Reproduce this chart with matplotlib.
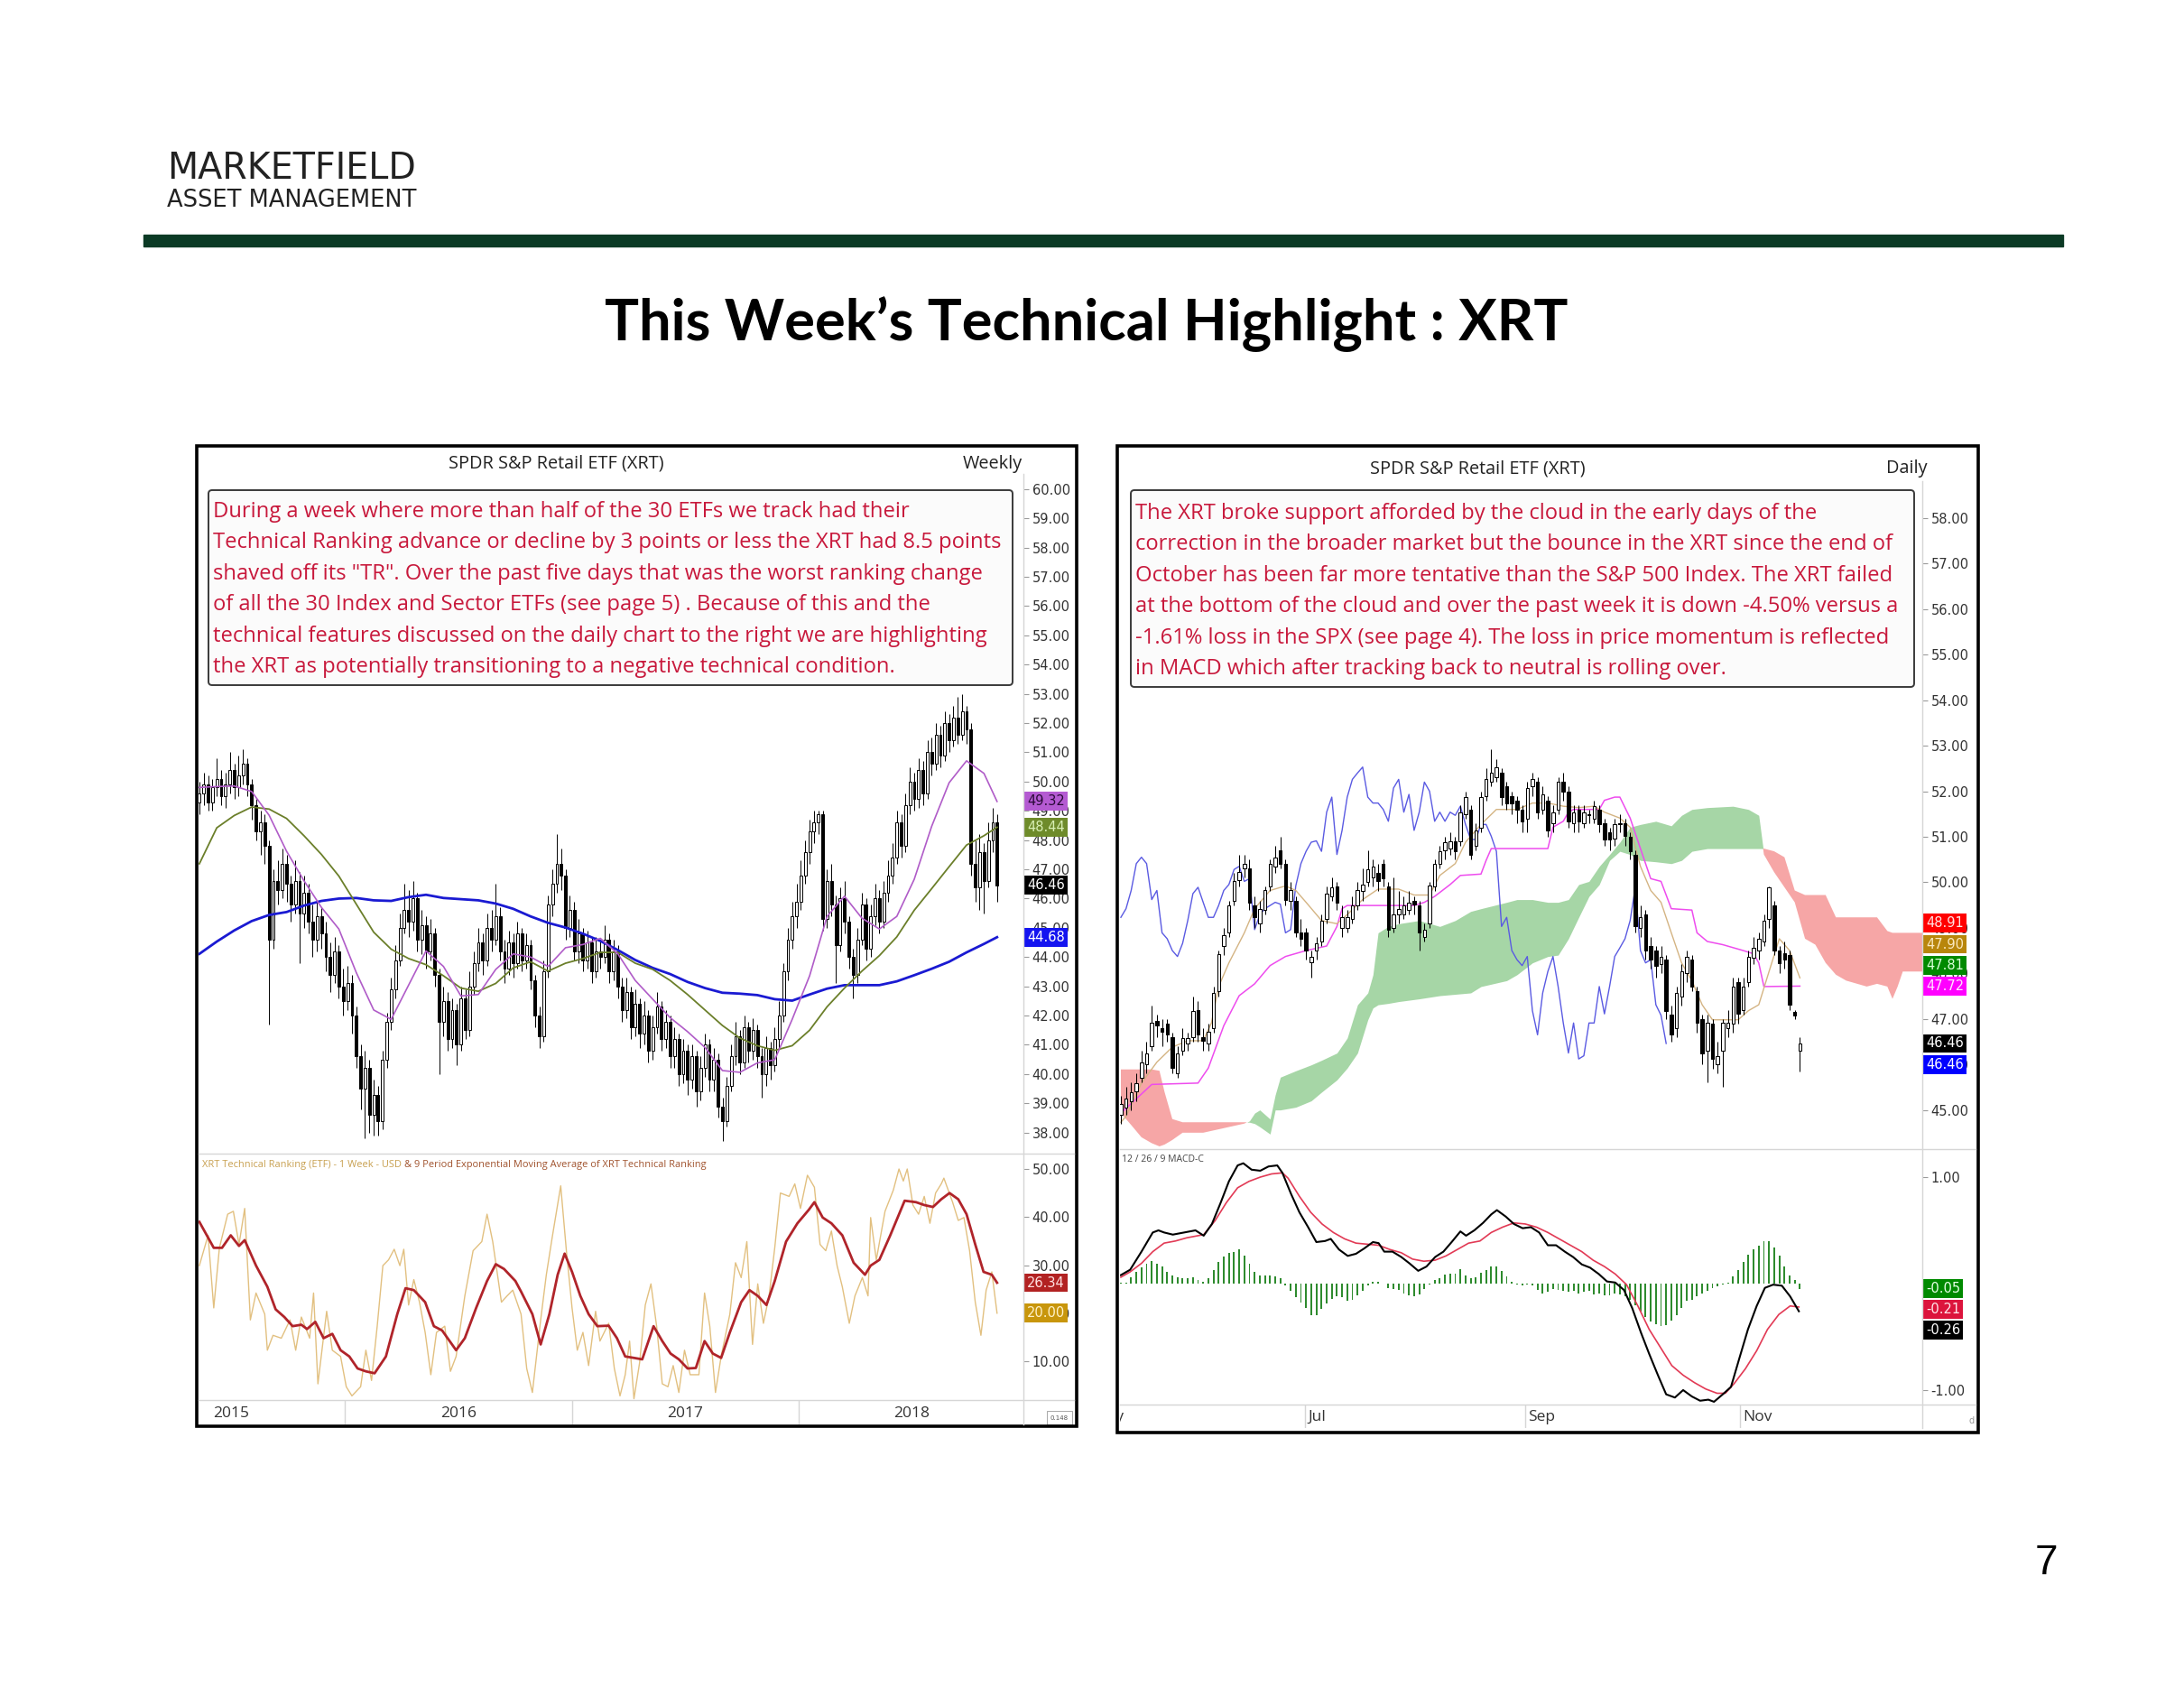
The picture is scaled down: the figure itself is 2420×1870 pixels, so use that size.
import matplotlib.pyplot as plt
import numpy as np
from matplotlib.patches import Rectangle, FancyBboxPatch

# ---------------- weekly XRT (left chart), one candle per week ----------------
wk_open = [49.3, 49.6, 49.9, 49.3, 49.8, 50.1, 49.5, 49.9, 50.4, 49.8, 50.2, 50.6,
           49.9, 49.2, 48.3, 48.6, 47.8,
           44.6, 46.6, 46.3, 47.2, 46.5, 45.8, 46.6, 45.5, 46.2, 45.2, 44.6,
           45.4, 44.8, 44.0, 43.4, 44.2, 43.0, 42.5, 43.1,
           42.0, 40.6, 39.5, 40.2, 38.6, 39.3,
           38.4, 40.5, 41.8, 42.9, 43.9, 45.0,
           45.6, 45.2, 46.0, 44.6, 45.1, 44.2,
           44.8, 43.4, 41.8, 42.5, 41.2, 42.2, 41.0, 42.6, 41.5,
           43.0, 43.8, 44.5, 43.9, 45.0, 44.6,
           45.4, 44.2, 43.6, 44.5, 43.8, 44.8, 43.9, 44.4, 43.2, 42.0,
           41.3, 43.5, 45.8, 46.5, 47.2,
           46.8, 45.0, 45.6, 44.2, 44.8, 43.9, 44.5, 43.5,
           44.2, 44.0, 44.6, 43.5, 44.2, 43.0, 42.2, 42.8,
           41.6, 42.4, 41.4, 42.0, 40.8, 41.6, 42.3, 41.2,
           41.8, 40.6, 41.2, 40.0, 40.8, 39.8, 40.6, 39.4, 40.2, 41.0, 39.8, 40.5,
           38.9, 38.4, 39.6, 40.6, 41.3, 40.4, 41.6,
           40.8, 41.5, 40.6, 40.0, 40.9, 40.3, 41.2,
           42.0, 43.5, 44.6, 45.4, 45.9, 46.8, 47.6, 48.3,
           48.6, 48.9, 45.3, 46.6, 45.8, 44.4, 46.0, 45.2,
           44.0, 43.4, 44.6, 45.8, 44.3, 45.4, 46.0, 45.2,
           46.2, 46.8, 47.4, 48.6, 47.8, 49.2, 50.0,
           49.4, 50.4, 49.6, 51.0, 50.6, 51.6, 50.9, 52.0,
           51.4, 52.2, 51.6, 52.4, 51.8,
           47.2, 46.4, 47.6, 46.6, 48.0, 48.6]
wk_high = [50.0, 50.3, 50.2, 50.1, 50.8, 50.4, 50.3, 51.0, 50.6, 50.9, 51.1, 50.8,
           50.1, 49.4, 49.0, 48.9, 48.0,
           47.0, 47.3, 47.7, 47.5, 46.8, 47.3, 46.9, 46.8, 46.5, 45.8, 45.9,
           45.7, 45.2, 44.5, 44.7, 44.4, 43.6, 43.7, 43.4,
           42.3, 41.0, 40.8, 40.5, 39.8, 39.6,
           40.8, 42.1, 43.3, 44.4, 45.5, 46.5,
           46.3, 46.6, 46.2, 45.6, 45.4, 45.3,
           45.0, 43.6, 43.0, 42.8, 42.6, 42.4, 43.0, 42.9, 43.5,
           44.2, 45.0, 44.8, 45.5, 45.6, 46.5,
           45.7, 44.6, 44.9, 44.8, 45.2, 45.0, 44.8, 44.6, 43.4, 42.3,
           43.9, 46.1, 47.0, 48.2, 47.7,
           47.0, 46.1, 45.9, 45.3, 45.0, 44.9, 44.7, 44.7,
           44.6, 45.1, 44.8, 44.6, 44.4, 43.3, 43.3, 43.0,
           42.9, 42.6, 42.5, 42.2, 42.0, 42.8, 42.5, 42.2,
           42.0, 41.6, 41.4, 41.2, 41.0, 41.0, 40.8, 40.6, 41.4, 41.2, 40.9, 40.7,
           39.2, 39.9, 41.0, 41.8, 41.5, 42.0, 41.8,
           41.9, 41.7, 40.9, 41.3, 41.1, 41.6, 42.5,
           43.8, 45.0, 45.9, 46.5, 47.3, 48.0, 48.7, 49.0,
           49.0, 49.0, 47.0, 47.2, 46.1, 46.4, 46.6, 45.4,
           44.3, 45.0, 46.2, 46.0, 45.8, 46.5, 46.3, 46.6,
           47.3, 47.9, 49.0, 48.9, 49.6, 50.5, 50.3,
           50.8, 50.7, 51.4, 51.5, 52.0, 51.9, 52.4, 52.3,
           52.6, 52.9, 53.0, 52.6, 52.0,
           48.0, 48.2, 47.9, 48.6, 49.1, 48.9]
wk_low = [48.9, 49.2, 49.0, 49.0, 49.5, 49.2, 49.1, 49.6, 49.4, 49.5, 49.9, 49.5,
          48.7, 48.0, 47.5, 47.2, 41.7,
          44.3, 45.8, 46.0, 45.9, 45.2, 45.5, 43.8, 45.0, 44.8, 44.0, 44.2,
          44.3, 43.5, 42.8, 43.1, 42.6, 42.0, 42.2, 41.4,
          40.2, 38.8, 37.8, 38.0, 37.9, 37.9,
          38.1, 40.2, 41.5, 42.6, 43.7, 44.8,
          44.7, 44.9, 44.2, 44.1, 43.6, 43.9,
          43.0, 40.0, 41.3, 40.8, 40.9, 40.3, 40.8, 41.2, 41.3,
          42.7, 43.5, 43.4, 43.7, 44.2, 44.4,
          43.9, 43.1, 43.4, 43.3, 43.6, 43.5, 43.6, 42.9, 41.6, 40.9,
          41.1, 43.3, 45.4, 46.2, 46.3,
          44.6, 44.7, 43.9, 43.8, 43.5, 43.6, 43.1, 43.3,
          43.6, 43.8, 43.1, 43.2, 42.6, 41.8, 41.9, 41.2,
          41.3, 40.9, 41.0, 40.4, 40.5, 41.4, 40.8, 40.9,
          40.2, 40.2, 39.6, 39.7, 39.3, 39.5, 38.9, 39.1, 39.9, 39.4, 39.4, 38.5,
          37.7, 38.2, 39.4, 40.3, 40.0, 40.2, 40.4,
          40.5, 40.2, 39.2, 39.6, 39.8, 40.1, 40.9,
          41.8, 43.2, 44.3, 45.0, 45.6, 46.5, 47.2, 47.9,
          48.2, 44.9, 45.0, 45.4, 43.1, 44.2, 44.8, 43.6,
          42.6, 43.1, 44.4, 43.9, 44.0, 45.1, 44.8, 45.0,
          45.9, 46.5, 47.2, 47.4, 47.6, 48.9, 49.0,
          49.1, 49.2, 49.4, 50.2, 50.4, 50.5, 50.7, 51.0,
          51.2, 51.3, 51.4, 51.3, 46.8,
          45.9, 45.6, 45.5, 46.4, 47.6, 45.9]
wk_close = [49.6, 49.9, 49.3, 49.8, 50.1, 49.5, 49.9, 50.4, 49.8, 50.2, 50.6, 49.9,
            49.2, 48.3, 48.6, 47.8, 44.6,
            46.6, 46.3, 47.2, 46.5, 45.8, 46.6, 45.5, 46.2, 45.2, 44.6, 45.4,
            44.8, 44.0, 43.4, 44.2, 43.0, 42.5, 43.1, 42.0,
            40.6, 39.5, 40.2, 38.6, 39.3, 38.4,
            40.5, 41.8, 42.9, 43.9, 45.0, 45.6,
            45.2, 46.0, 44.6, 45.1, 44.2, 44.8,
            43.4, 41.8, 42.5, 41.2, 42.2, 41.0, 42.6, 41.5, 43.0,
            43.8, 44.5, 43.9, 45.0, 44.6, 45.4,
            44.2, 43.6, 44.5, 43.8, 44.8, 43.9, 44.4, 43.2, 42.0, 41.3,
            43.5, 45.8, 46.5, 47.2, 46.8,
            45.0, 45.6, 44.2, 44.8, 43.9, 44.5, 43.5, 44.2,
            44.0, 44.6, 43.5, 44.2, 43.0, 42.2, 42.8, 41.6,
            42.4, 41.4, 42.0, 40.8, 41.6, 42.3, 41.2, 41.8,
            40.6, 41.2, 40.0, 40.8, 39.8, 40.6, 39.4, 40.2, 41.0, 39.8, 40.5, 38.9,
            38.4, 39.6, 40.6, 41.3, 40.4, 41.6, 40.8,
            41.5, 40.6, 40.0, 40.9, 40.3, 41.2, 42.0,
            43.5, 44.6, 45.4, 45.9, 46.8, 47.6, 48.3, 48.6,
            48.9, 45.3, 46.6, 45.8, 44.4, 46.0, 45.2, 44.0,
            43.4, 44.6, 45.8, 44.3, 45.4, 46.0, 45.2, 46.2,
            46.8, 47.4, 48.6, 47.8, 49.2, 50.0, 49.4,
            50.4, 49.6, 51.0, 50.6, 51.6, 50.9, 52.0, 51.4,
            52.2, 51.6, 52.4, 51.8, 47.2,
            46.4, 47.6, 46.6, 48.0, 48.6, 46.46]

# moving averages, read every 4th week (last point = last week)
ma_fast = [49.80, 49.83, 49.85, 49.66, 48.85, 47.62, 46.61, 45.70, 44.96, 43.47,
           42.19, 41.87, 43.04, 44.21, 43.68, 42.67, 42.72, 43.58, 44.11, 44.0,
           43.68, 44.32, 44.43, 44.64, 44.11, 43.2, 42.56, 41.93, 41.45, 40.91,
           40.12, 40.06, 40.38, 40.49, 41.87, 43.36, 45.39, 46.08, 45.33, 44.96,
           45.39, 46.66, 48.47, 49.96, 50.71, 50.28, 49.32]
ma_mid = [47.19, 48.42, 48.84, 49.13, 49.06, 48.74, 48.15, 47.51, 46.77, 45.81,
          44.85, 44.27, 43.95, 43.74, 43.36, 42.94, 42.83, 43.10, 43.63, 43.84,
          43.52, 43.79, 43.95, 44.16, 44.16, 43.79, 43.58, 43.20, 42.72, 42.19,
          41.66, 41.23, 40.97, 40.81, 40.97, 41.50, 42.30, 42.94, 43.52, 44.05,
          44.69, 45.60, 46.34, 47.09, 47.83, 48.15, 48.44]
ma_slow = [44.11, 44.53, 44.91, 45.23, 45.44, 45.54, 45.76, 45.92, 46.0, 46.02,
           45.94, 45.92, 46.05, 46.13, 46.02, 45.98, 45.94, 45.83, 45.65, 45.39,
           45.17, 45.01, 44.80, 44.55, 44.24, 43.90, 43.63, 43.42, 43.15, 42.94,
           42.78, 42.75, 42.70, 42.56, 42.51, 42.72, 42.92, 43.04, 43.04, 43.04,
           43.17, 43.38, 43.60, 43.84, 44.16, 44.45, 44.68]
ma_weeks = list(range(0, 184, 4)) + [183]

# technical ranking (raw, tan) and its 9-period EMA (dark red)
rank_wk = [0, 2.0, 3.3, 4.6, 6.5, 7.8, 9.1, 10.4, 11.7, 13.0,
           15.0, 15.6, 16.9, 18.8, 20.8, 22.1, 23.4, 25.3, 26.2, 27.2,
           29.2, 30.5, 32.4, 33.7, 35.0, 37.0, 38.2, 39.5, 40.8, 42.1,
           43.4, 44.7, 46.0, 46.9, 48.0, 49.2, 50.5, 51.8, 53.1, 54.4,
           56.3, 57.6, 58.9, 60.9, 62.8, 64.8, 66.0, 67.3, 69.3, 70.6,
           71.9, 73.8, 75.1, 76.4, 78.3, 79.6, 80.9, 82.9, 84.2, 85.5,
           86.7, 88.0, 89.3, 90.9, 91.9, 93.9, 95.2, 96.5, 97.7, 98.7,
           99.7, 101.0, 102.3, 103.6, 104.9, 106.2, 107.5, 108.7, 110.0, 111.3,
           112.6, 114.6, 115.9, 117.1, 118.4, 119.7, 121.7, 123.0, 124.3, 125.6,
           126.9, 128.1, 129.4, 130.7, 132.0, 133.3, 135.3, 136.6, 137.9, 139.5,
           141.1, 142.4, 143.7, 145.0, 146.3, 147.5, 149.1, 150.4, 152.1, 153.4,
           154.0, 155.3, 157.3, 159.2, 160.5, 161.5, 162.4, 163.7, 165.0, 166.3,
           167.6, 168.9, 170.2, 170.8, 172.8, 174.1, 175.4, 176.7, 178.0, 179.3,
           180.5, 181.8, 183.0]
rank_raw = [29.9, 36.2, 21.1, 33.6, 40.6, 41.2, 34.3, 41.8, 18.6, 24.2,
            19.8, 12.3, 15.4, 14.8, 18.6, 12.3, 19.2, 14.8, 24.2, 5.3,
            20.4, 12.3, 11.0, 4.7, 2.8, 4.7, 12.3, 6.0, 17.3, 29.9,
            31.1, 33.3, 29.9, 33.3, 21.7, 27.0, 22.3, 16.0, 7.2, 16.0,
            17.3, 7.9, 11.0, 23.6, 33.0, 34.9, 40.6, 34.9, 22.3, 23.6,
            24.8, 19.8, 8.5, 3.5, 18.6, 28.0, 35.5, 46.5, 33.0, 21.1,
            12.3, 16.0, 9.1, 20.4, 14.2, 17.9, 8.5, 2.8, 7.2, 14.2,
            2.2, 9.7, 21.7, 26.1, 17.3, 5.3, 4.7, 9.1, 3.5, 12.3,
            7.2, 7.2, 24.2, 17.3, 3.5, 11.0, 19.8, 30.5, 27.4, 34.9,
            13.5, 26.1, 17.9, 23.6, 33.6, 45.0, 44.3, 46.9, 41.8, 48.7,
            46.2, 34.3, 33.0, 37.1, 29.9, 25.5, 17.9, 23.6, 27.4, 23.6,
            39.9, 31.1, 41.2, 45.6, 50.0, 47.5, 50.0, 42.5, 40.6, 44.3,
            38.7, 45.0, 46.9, 48.1, 43.1, 39.3, 39.9, 33.0, 22.3, 15.4,
            24.8, 28.6, 20.0]
ema_wk = [0, 3.3, 5.2, 7.2, 9.1, 10.4, 13.0, 15.6, 17.5, 19.5,
          21.4, 23.4, 24.7, 26.6, 28.5, 30.5, 32.4, 34.4, 36.3, 38.2,
          40.2, 42.8, 45.4, 47.3, 49.2, 51.8, 53.8, 55.7, 58.9, 60.9,
          63.5, 66.0, 68.0, 69.9, 72.5, 73.8, 76.4, 78.3, 80.3, 82.2,
          83.8, 85.5, 87.4, 89.3, 91.3, 93.9, 95.8, 97.7, 99.7, 101.6,
          104.2, 106.2, 108.1, 110.0, 112.0, 113.9, 115.9, 117.8, 119.7, 121.7,
          124.3, 126.2, 128.1, 130.1, 132.0, 134.6, 137.2, 139.8, 141.1, 143.0,
          145.0, 147.5, 150.1, 152.7, 154.0, 156.0, 158.5, 161.8, 164.4, 166.3,
          168.3, 170.2, 172.1, 174.1, 176.0, 178.0, 179.9, 181.8, 183.0]
rank_ema = [39.0, 33.6, 33.6, 36.2, 34.0, 35.2, 29.9, 25.5, 20.8, 19.2,
            17.3, 17.6, 16.7, 18.2, 14.8, 15.7, 12.3, 11.0, 8.5, 7.9,
            7.5, 11.0, 19.8, 25.2, 24.8, 22.3, 17.3, 16.4, 12.3, 14.8,
            21.1, 26.7, 30.2, 29.2, 26.7, 24.5, 19.8, 13.5, 19.8, 28.0,
            32.4, 28.6, 23.6, 19.8, 17.3, 17.4, 14.8, 11.0, 10.7, 10.4,
            17.3, 14.2, 11.6, 10.4, 8.5, 8.6, 14.2, 11.6, 10.7, 16.0,
            22.3, 24.8, 23.6, 21.7, 26.7, 34.9, 38.7, 41.5, 43.1, 39.9,
            38.7, 36.2, 30.5, 28.0, 29.9, 31.1, 36.2, 43.4, 43.1, 42.5,
            42.1, 43.7, 45.0, 43.7, 40.6, 34.3, 28.6, 28.0, 26.34]

year_labels = ['2015', '2016', '2017', '2018']
year_starts = [-18.8, 33.4, 85.5, 137.4, 189.5]   # week index of 1 Jan

# ---------------- daily XRT (right chart), May-Nov 2018 ----------------
d_open = [44.9, 45.05, 45.2, 45.4, 45.7, 46.0, 46.4, 46.95, 46.8, 46.9,
          46.6, 45.8, 46.3, 46.45, 46.6, 47.2, 46.6, 46.45, 46.8, 47.6,
          48.6, 48.9, 49.6, 50.05, 50.3, 50.3, 49.5, 49.1, 49.4, 49.9,
          50.35, 50.7, 50.4, 49.6, 49.6, 48.9, 48.9, 48.25, 48.5, 48.7,
          49.2, 49.7, 49.9, 49.0, 49.0, 49.2, 49.5, 49.8, 50.0, 50.1,
          50.2, 50.4, 49.9, 49.0, 49.3, 49.3, 49.4, 49.6, 49.5, 48.8,
          49.1, 49.9, 50.4, 50.7, 50.75, 50.9, 50.9, 51.5, 51.6, 50.8,
          51.2, 51.9, 52.2, 52.3, 52.4, 52.1, 51.9, 51.8, 51.6, 51.4,
          52.1, 52.2, 51.6, 51.8, 51.3, 51.6, 52.2, 52.0, 51.3, 51.6,
          51.3, 51.5, 51.4, 51.6, 51.3, 51.1, 50.95, 51.3, 51.3, 51.0,
          50.6, 49.0, 49.3, 48.6, 48.5, 48.2, 48.3, 47.1, 46.8, 47.5,
          48.0, 48.3, 47.6, 47.0, 46.3, 46.9, 46.0, 46.3, 46.8, 46.9,
          47.8, 47.2, 47.8, 48.35, 48.5, 48.7, 49.2, 49.5, 48.5, 48.45,
          48.4, 47.15, 46.3]
d_high = [45.3, 45.5, 45.6, 45.8, 46.3, 46.5, 47.3, 47.1, 47.0, 47.0,
          46.7, 46.4, 46.8, 46.7, 47.5, 47.4, 46.8, 46.9, 47.7, 48.5,
          49.0, 49.6, 50.2, 50.6, 50.6, 50.5, 49.7, 49.6, 49.9, 50.5,
          50.8, 51.0, 50.5, 50.0, 49.7, 49.2, 49.0, 48.5, 48.8, 49.3,
          49.9, 50.1, 50.0, 49.5, 49.4, 49.7, 50.0, 50.3, 50.7, 50.5,
          50.4, 50.5, 50.0, 50.1, 49.8, 49.7, 49.8, 49.7, 49.6, 49.1,
          50.0, 50.5, 50.8, 51.0, 51.1, 51.0, 51.7, 52.0, 51.7, 51.3,
          52.0, 52.5, 52.93, 52.7, 52.5, 52.2, 52.0, 51.9, 51.7, 52.2,
          52.4, 52.3, 52.1, 51.9, 51.7, 52.3, 52.4, 52.1, 51.7, 51.7,
          51.7, 51.6, 51.8, 51.7, 51.4, 51.2, 51.4, 51.5, 51.4, 51.1,
          50.7, 49.5, 49.4, 48.8, 48.6, 48.6, 48.4, 47.3, 47.7, 48.2,
          48.5, 48.4, 47.7, 47.1, 47.1, 47.0, 46.5, 47.0, 47.2, 47.9,
          47.9, 47.9, 48.5, 48.8, 48.9, 49.3, 49.9, 49.6, 48.6, 48.7,
          48.5, 47.2, 46.6]
d_low = [44.7, 44.9, 45.0, 45.2, 45.6, 45.8, 46.3, 46.6, 46.4, 46.5,
         45.8, 45.7, 46.2, 46.3, 46.5, 46.5, 46.3, 46.3, 46.7, 47.5,
         48.4, 48.8, 49.5, 49.9, 50.1, 49.4, 49.0, 48.9, 49.3, 49.8,
         50.2, 50.3, 49.5, 49.4, 48.8, 48.6, 48.3, 47.9, 48.3, 48.6,
         49.1, 49.6, 49.4, 48.8, 48.9, 49.1, 49.4, 49.6, 49.9, 49.9,
         49.8, 49.9, 48.8, 48.9, 49.1, 49.2, 49.3, 49.3, 48.5, 48.7,
         49.0, 49.8, 50.3, 50.5, 50.6, 50.5, 50.8, 51.4, 50.5, 50.7,
         51.1, 51.8, 52.1, 52.2, 51.7, 51.6, 51.5, 51.3, 51.1, 51.1,
         51.9, 51.4, 51.5, 51.0, 51.1, 51.5, 51.8, 51.2, 51.1, 51.1,
         51.2, 51.3, 51.3, 51.1, 50.8, 50.7, 50.8, 51.1, 50.8, 50.5,
         48.9, 48.8, 48.3, 48.1, 47.9, 48.0, 47.0, 46.5, 46.6, 47.3,
         47.8, 47.6, 46.7, 46.0, 45.6, 45.9, 45.8, 45.5, 46.6, 46.7,
         46.9, 47.1, 47.7, 48.2, 48.3, 48.6, 49.0, 48.4, 48.0, 48.1,
         47.2, 47.0, 45.85]
d_close = [45.13, 45.26, 45.39, 45.59, 46.05, 46.25, 46.91, 46.85, 46.71, 46.65,
           45.92, 46.25, 46.58, 46.58, 47.18, 46.65, 46.52, 46.71, 47.57, 48.43,
           48.83, 49.49, 50.02, 50.22, 50.41, 49.56, 49.23, 49.42, 49.82, 50.41,
           50.55, 50.41, 49.62, 49.82, 48.89, 48.76, 48.50, 48.37, 48.66, 49.16,
           49.75, 49.89, 49.56, 49.23, 49.23, 49.49, 49.82, 49.95, 50.28, 50.35,
           50.02, 50.08, 48.96, 49.29, 49.42, 49.49, 49.56, 49.52, 48.89, 48.96,
           49.92, 50.41, 50.68, 50.88, 50.91, 50.68, 51.54, 51.87, 50.61, 51.14,
           51.87, 52.26, 52.40, 52.53, 51.87, 51.74, 51.74, 51.60, 51.34, 52.07,
           52.26, 51.54, 51.93, 51.14, 51.54, 52.20, 52.00, 51.34, 51.54, 51.34,
           51.54, 51.47, 51.67, 51.27, 50.94, 50.94, 51.27, 51.27, 51.01, 50.68,
           49.03, 49.23, 48.50, 48.30, 48.17, 48.37, 47.18, 46.65, 47.57, 48.04,
           48.37, 47.71, 46.91, 46.25, 46.91, 46.12, 46.19, 46.91, 46.91, 47.71,
           47.11, 47.71, 48.37, 48.56, 48.76, 49.16, 49.89, 48.50, 48.23, 48.30,
           47.31, 47.08, 46.46]
chikou_lag = 26

# Ichimoku lines (day index, price)
tenkan_day = [0, 1, 4, 7, 10, 13, 16, 17.6, 19, 21, 24, 26, 29, 32, 34, 36, 39, 42, 44, 47,
              50, 54, 57, 60, 62, 65, 67, 70, 73, 77, 80, 83, 86, 89, 92, 94, 97, 99, 101, 103,
              105, 107, 109, 111, 113, 115, 118, 120, 122, 124, 126, 128, 130, 132]
tenkan = [44.73, 44.86, 45.59, 46.05, 46.38, 46.52, 46.52, 46.91, 47.71, 48.23,
          48.89, 49.42, 49.82, 49.92, 49.82, 49.56, 49.16, 49.09, 49.29, 49.62,
          49.85, 49.85, 49.72, 49.72, 50.15, 50.41, 50.88, 51.27, 51.60, 51.60,
          51.74, 51.74, 51.67, 51.64, 51.67, 51.54, 51.41, 51.21, 50.35, 49.82,
          49.56, 48.89, 48.23, 47.84, 47.31, 46.98, 46.98, 46.98, 47.18, 47.31,
          48.04, 48.76, 48.50, 47.90]
kijun_day = [0, 6, 15, 17, 20, 23, 26, 29, 32, 36, 40, 42, 43, 44, 57, 59, 61, 64, 66, 70,
             71, 72, 83, 84, 86, 87, 88, 93, 94, 96, 97, 99, 101, 103, 105, 107, 111, 112, 114, 117,
             121, 123, 124, 125, 132]
kijun = [44.93, 45.56, 45.59, 45.92, 46.85, 47.51, 47.77, 48.17, 48.37, 48.50,
         48.60, 49.03, 49.42, 49.49, 49.49, 49.56, 49.69, 49.95, 50.15, 50.18,
         50.48, 50.74, 50.74, 51.21, 51.34, 51.54, 51.60, 51.60, 51.80, 51.87,
         51.87, 51.41, 50.74, 50.08, 50.02, 49.42, 49.39, 48.89, 48.70, 48.63,
         48.50, 48.43, 48.23, 47.71, 47.72]
cloud_day = [0, 2, 4, 6, 7.5, 8.5, 10, 12, 16, 20, 24, 25, 26, 27, 29, 30, 31, 34, 37, 39,
             42, 44, 46, 48, 49, 50, 52, 54, 58, 62, 65, 68, 70, 75, 77, 80, 83, 85, 87, 89,
             91, 93, 95, 97, 99, 101, 104, 107, 109, 111, 114, 119, 122, 124, 125, 127, 129, 131, 133, 135,
             137, 139, 141, 145, 147, 149, 150, 151, 152, 156]
span_a = [44.93, 44.67, 44.40, 44.27, 44.20, 44.24, 44.34, 44.50, 44.50, 44.60,
          44.70, 44.76, 44.93, 45.00, 44.80, 45.33, 45.72, 45.86, 45.99, 46.09,
          46.25, 46.58, 47.31, 47.57, 47.97, 48.89, 49.03, 49.09, 49.16, 49.03,
          49.16, 49.36, 49.42, 49.56, 49.62, 49.62, 49.56, 49.56, 49.62, 49.95,
          50.02, 50.35, 50.61, 50.88, 51.21, 51.27, 51.34, 51.24, 51.47, 51.60,
          51.64, 51.67, 51.60, 51.47, 50.61, 50.22, 49.89, 49.56, 48.76, 48.63,
          48.23, 47.97, 47.84, 47.71, 47.77, 47.71, 47.44, 47.71, 48.04, 48.04]
span_b = [45.89, 45.89, 45.89, 45.89, 45.86, 45.39, 44.80, 44.73, 44.73, 44.73,
          44.73, 44.73, 44.70, 44.63, 44.47, 45.00, 45.00, 45.06, 45.20, 45.39,
          45.66, 45.92, 46.25, 46.98, 47.24, 47.31, 47.34, 47.38, 47.44, 47.51,
          47.54, 47.57, 47.71, 47.84, 47.97, 48.23, 48.37, 48.40, 48.76, 49.23,
          49.69, 49.95, 50.48, 50.68, 50.61, 50.48, 50.45, 50.41, 50.48, 50.68,
          50.74, 50.74, 50.74, 50.74, 50.74, 50.68, 50.55, 49.82, 49.72, 49.72,
          49.72, 49.23, 49.23, 49.23, 49.23, 48.93, 48.89, 48.89, 48.89, 48.89]

# MACD 12/26/9
macd_day = [0, 1.8, 4.0, 6.2, 7.3, 8.4, 10.1, 12.3, 14.5, 16.1,
            17.7, 19.4, 21.0, 22.7, 23.8, 25.4, 27.1, 28.7, 30.4, 31.4,
            33.1, 34.7, 36.4, 38.0, 39.7, 40.8, 42.4, 44.1, 45.7, 47.3,
            49.0, 50.1, 51.2, 52.8, 54.5, 56.1, 57.8, 59.4, 61.1, 62.7,
            64.3, 66.0, 67.1, 68.7, 70.4, 72.0, 73.1, 74.8, 76.4, 78.1,
            79.7, 81.3, 83.0, 84.6, 86.3, 87.9, 89.6, 91.2, 92.9, 94.5,
            96.1, 97.8, 99.4, 101.1, 102.7, 104.4, 106.0, 107.7, 109.3, 111.0,
            112.6, 114.2, 115.3, 117.0, 118.6, 120.3, 121.9, 123.6, 125.2, 126.8,
            128.5, 130.1, 131.8]
macd = [0.08, 0.13, 0.30, 0.48, 0.50, 0.48, 0.46, 0.48, 0.50, 0.45,
        0.56, 0.76, 0.96, 1.11, 1.13, 1.07, 1.06, 1.10, 1.11, 1.04,
        0.84, 0.67, 0.53, 0.39, 0.40, 0.42, 0.32, 0.26, 0.28, 0.33,
        0.39, 0.38, 0.30, 0.30, 0.25, 0.19, 0.12, 0.16, 0.25, 0.30,
        0.39, 0.49, 0.45, 0.50, 0.57, 0.65, 0.69, 0.63, 0.56, 0.52,
        0.53, 0.48, 0.36, 0.36, 0.30, 0.25, 0.18, 0.15, 0.09, 0.02,
        0.01, -0.06, -0.23, -0.46, -0.66, -0.86, -1.04, -1.07, -1.00, -1.06,
        -1.10, -1.09, -1.11, -1.04, -0.97, -0.69, -0.43, -0.21, -0.04, -0.01,
        -0.02, -0.12, -0.26]
signal_day = [0, 1.8, 4.0, 6.2, 8.4, 10.6, 12.8, 15.0, 16.1, 18.3,
              20.5, 22.7, 24.9, 27.1, 29.3, 31.4, 32.5, 34.7, 36.9, 39.1,
              41.3, 43.5, 45.7, 47.9, 50.1, 52.3, 54.5, 56.7, 58.9, 61.1,
              63.2, 65.4, 67.6, 69.8, 72.0, 74.2, 76.4, 78.6, 80.8, 83.0,
              85.2, 87.4, 89.6, 91.8, 94.0, 96.1, 98.3, 100.5, 102.7, 104.9,
              107.1, 109.3, 111.5, 113.7, 115.9, 117.5, 119.2, 121.4, 123.6, 125.7,
              127.9, 130.1, 131.8]
signal = [0.06, 0.11, 0.19, 0.30, 0.38, 0.40, 0.43, 0.45, 0.46, 0.59,
          0.76, 0.90, 0.96, 1.00, 1.03, 1.04, 0.99, 0.82, 0.67, 0.56,
          0.48, 0.42, 0.38, 0.37, 0.36, 0.32, 0.29, 0.23, 0.21, 0.22,
          0.26, 0.32, 0.38, 0.40, 0.48, 0.53, 0.57, 0.56, 0.53, 0.48,
          0.42, 0.36, 0.30, 0.22, 0.16, 0.09, -0.01, -0.21, -0.43, -0.60,
          -0.77, -0.86, -0.93, -0.99, -1.03, -1.03, -0.94, -0.80, -0.63, -0.43,
          -0.29, -0.21, -0.22]
hist = [0.01, 0.01, 0.06, 0.11, 0.15, 0.19, 0.21, 0.19, 0.16, 0.11,
        0.08, 0.06, 0.055, 0.05, 0.06, 0.03, 0.02, 0.05, 0.13, 0.20,
        0.25, 0.29, 0.30, 0.32, 0.26, 0.19, 0.11, 0.08, 0.08, 0.08,
        0.07, 0.05, -0.02, -0.07, -0.13, -0.18, -0.23, -0.30, -0.30, -0.24,
        -0.19, -0.14, -0.12, -0.13, -0.16, -0.15, -0.11, -0.07, -0.02, 0.02,
        0.02, 0.0, -0.04, -0.05, -0.06, -0.09, -0.11, -0.12, -0.10, -0.05,
        -0.01, 0.03, 0.055, 0.085, 0.09, 0.09, 0.135, 0.08, 0.05, 0.06,
        0.10, 0.13, 0.16, 0.16, 0.12, 0.07, 0.02, -0.01, -0.02, -0.01,
        -0.02, -0.06, -0.09, -0.08, -0.055, -0.06, -0.07, -0.08, -0.065, -0.09,
        -0.08, -0.065, -0.10, -0.09, -0.11, -0.11, -0.09, -0.10, -0.12, -0.155,
        -0.205, -0.26, -0.31, -0.355, -0.385, -0.40, -0.39, -0.35, -0.30, -0.225,
        -0.16, -0.15, -0.12, -0.095, -0.07, -0.04, -0.025, -0.01, 0.01, 0.065,
        0.125, 0.20, 0.27, 0.32, 0.36, 0.40, 0.395, 0.34, 0.26, 0.16,
        0.08, 0.03, -0.05]

month_labels = ['May', 'Jul', 'Sep', 'Nov']
month_starts = [-6.0, 35.8, 78.6, 120.3]   # day index of first trading day

# last-value tags
left_tags = [(49.32, '#b45ad2', '#2a0a38'), (48.44, '#6e8b2a', '#d8efb4'),
             (46.46, '#000000', '#ffffff'), (44.68, '#1414f0', '#ffffff')]
rank_tags = [(26.34, '#b22222', '#ffe0e0'), (20.00, '#c8960c', '#fff2c8')]
right_tags_a = [(48.91, '#ff0000', '#ffe4e4'), (47.90, '#b8860b', '#fbe9c0'),
                (47.81, '#008a00', '#d8ffd8'), (47.72, '#ff00ff', '#ffe4ff')]
right_tags_b = [(46.46, '#000000', '#ffffff'), (46.46, '#0000ff', '#ffffff')]
macd_tags = [(-0.05, '#008a00', '#e6ffe6'), (-0.21, '#dc143c', '#ffe6ea'), (-0.26, '#000000', '#ffffff')]

left_note = [
    "During a week where more than half of the 30 ETFs we track had their",
    "Technical Ranking advance or decline by 3 points or less the XRT had 8.5 points",
    "shaved off its \"TR\". Over the past five days that was the worst ranking change",
    "of all the 30 Index and Sector ETFs (see page 5) . Because of this and the",
    "technical features discussed on the daily chart to the right we are highlighting",
    "the XRT as potentially transitioning to a negative technical condition.",
]
right_note = [
    "The XRT broke support afforded by the cloud in the early days of the",
    "correction in the broader market but the bounce in the XRT since the end of",
    "October has been far more tentative than the S&P 500 Index. The XRT failed",
    "at the bottom of the cloud and over the past week it is down -4.50% versus a",
    "-1.61% loss in the SPX (see page 4). The loss in price momentum is reflected",
    "in MACD which after tracking back to neutral is rolling over.",
]

# ---------------- drawing ----------------
W, H = 2420, 1870
fig = plt.figure(figsize=(W / 100, H / 100), dpi=100)
fig.patch.set_facecolor('white')
NOTE_RED = '#c8193c'
SEP = '#d6d6d6'


def px_axes(x0, y0, x1, y1, z=1):
    return fig.add_axes([x0 / W, 1 - y1 / H, (x1 - x0) / W, (y1 - y0) / H], zorder=z)


def layer(z):
    ax = px_axes(0, 0, W, H, z)
    ax.set_xlim(0, W)
    ax.set_ylim(H, 0)
    ax.axis('off')
    return ax


def style(ax, xlim, ylim, ticks=None):
    ax.set_xlim(*xlim)
    ax.set_ylim(*ylim)
    for s in ax.spines.values():
        s.set_visible(False)
    ax.set_xticks([])
    if ticks is None:
        ax.set_yticks([])
    else:
        ax.yaxis.tick_right()
        ax.set_yticks(ticks)
        ax.set_yticklabels([f'{v:.2f}' for v in ticks])
        ax.tick_params(axis='y', length=4, width=0.8, color='#9a9a9a', pad=3,
                       labelsize=10.5, labelcolor='#333333')


def candles(ax, o, h, l, c, width, lw):
    o, h, l, c = map(np.asarray, (o, h, l, c))
    x = np.arange(len(c))
    ax.vlines(x, l, h, color='black', lw=lw, zorder=4)
    up = c >= o
    ax.bar(x[up], c[up] - o[up], width, bottom=o[up], facecolor='white',
           edgecolor='black', lw=lw, zorder=5)
    ax.bar(x[~up], o[~up] - c[~up], width, bottom=c[~up], facecolor='black',
           edgecolor='black', lw=lw, zorder=5)


def tag(ax, y, s, fc, tc):
    ax.text(1.0045, y, s, transform=ax.get_yaxis_transform(), ha='left', va='center',
            fontsize=10.5, color=tc, clip_on=False, zorder=30,
            bbox=dict(boxstyle='square,pad=0.2', fc=fc, ec='none'))


def stacked(vals, h, upward):
    pos = list(vals)
    if upward:
        for k in range(len(pos) - 2, -1, -1):
            pos[k] = max(pos[k], pos[k + 1] + h)
    else:
        for k in range(1, len(pos)):
            pos[k] = min(pos[k], pos[k - 1] - h)
    return pos


page = layer(0)
top = layer(10)

# header
page.text(185, 198, 'MARKETFIELD', fontsize=28.5, color='#222222', va='baseline')
page.text(185, 229, 'ASSET MANAGEMENT', fontsize=18.5, color='#222222', va='baseline')
page.add_patch(Rectangle((159, 260), 2127, 13, color='#0b3a25'))
page.text(1204, 377, 'This Week\u2019s Technical Highlight : XRT', ha='center', va='baseline',
          fontsize=45.5, fontweight='bold', family='Lato', color='black')
page.text(2267, 1744, '7', ha='center', va='baseline', fontsize=33, family='Liberation Sans')

# ---- left weekly chart ----
lx = ((220 - 220.9) / 4.83, (1134 - 220.9) / 4.83)
axP = px_axes(220, 525, 1134, 1278)
style(axP, lx, (37.28, 60.52), list(range(38, 61)))
candles(axP, wk_open, wk_high, wk_low, wk_close, 0.6, 0.7)
axP.plot(ma_weeks, ma_slow, color='#1a1ad2', lw=2.0, zorder=6)
axP.plot(ma_weeks, ma_mid, color='#6b7f2a', lw=1.3, zorder=6)
axP.plot(ma_weeks, ma_fast, color='#b05cc8', lw=1.2, zorder=6)
for v, fc, tc in left_tags:
    tag(axP, v, f'{v:.2f}', fc, tc)

axR = px_axes(220, 1278, 1134, 1551)
style(axR, lx, (1.93, 53.2), [10, 20, 30, 40, 50])
axR.plot(rank_wk, rank_raw, color='#e2c080', lw=1.0, zorder=3)
axR.plot(ema_wk, rank_ema, color='#b0242a', lw=2.0, zorder=4)
for v, fc, tc in rank_tags:
    tag(axR, v, f'{v:.2f}', fc, tc)
t1 = axR.text(0.004, 0.955, 'XRT Technical Ranking (ETF) - 1 Week - USD', transform=axR.transAxes,
              fontsize=7.9, family='Open Sans', color='#c8a050', va='center')
r = fig.canvas.get_renderer()
bb = t1.get_window_extent(renderer=r)
x_next = axR.transAxes.inverted().transform((bb.x1 + 3, 0))[0]
axR.text(x_next, 0.955, '& 9 Period Exponential Moving Average of XRT Technical Ranking',
         transform=axR.transAxes, fontsize=7.9, family='Open Sans', color='#a0522d', va='center')

axS = px_axes(220, 1551, 1134, 1578)
style(axS, lx, (0, 1))
axS.vlines(year_starts[1:4], 0, 1, color=SEP, lw=1)
for k, lab in enumerate(year_labels):
    axS.text((year_starts[k] + year_starts[k + 1]) / 2, 0.45, lab, ha='center', va='center',
             fontsize=12.5, family='Open Sans', color='#333333')

# ---- right daily chart ----
rx = ((1241 - 1242) / 5.7, (2130 - 1242) / 5.7)
axQ = px_axes(1241, 533, 2130, 1273)
style(axQ, rx, (44.14, 58.81), list(range(45, 59)))
ca, cb = np.array(span_a), np.array(span_b)
axQ.fill_between(cloud_day, ca, cb, where=ca >= cb, interpolate=True, color='#a6d6a6', lw=0, zorder=1)
axQ.fill_between(cloud_day, ca, cb, where=ca < cb, interpolate=True, color='#f6a6a6', lw=0, zorder=1)
days = np.arange(len(d_close))
axQ.plot(days[:-chikou_lag], d_close[chikou_lag:], color='#5a5ae2', lw=1.0, zorder=3)
axQ.plot(kijun_day, kijun, color='#ee4cee', lw=1.1, zorder=3)
axQ.plot(tenkan_day, tenkan, color='#d4b483', lw=1.0, zorder=3)
candles(axQ, d_open, d_high, d_low, d_close, 0.62, 0.75)
pos_a = stacked([v for v, _, _ in right_tags_a], 0.46, True)
pos_b = stacked([v for v, _, _ in right_tags_b], 0.46, False)
for (v, fc, tc), p in zip(right_tags_a + right_tags_b, pos_a + pos_b):
    tag(axQ, p, f'{v:.2f}', fc, tc)

axM = px_axes(1241, 1273, 2130, 1556)
style(axM, rx, (-1.136, 1.263), [-1.0, 1.0])
axM.bar(np.arange(len(hist)), hist, 0.32, color='#2e8b2e', zorder=2)
axM.plot(signal_day, signal, color='#e23a55', lw=1.2, zorder=3)
axM.plot(macd_day, macd, color='black', lw=1.5, zorder=4)
pos_m = stacked([v for v, _, _ in macd_tags], 0.195, False)
for (v, fc, tc), p in zip(macd_tags, pos_m):
    tag(axM, p, f'{v:.2f}', fc, tc)
axM.text(0.002, 0.96, '12 / 26 / 9 MACD-C', transform=axM.transAxes, fontsize=7.5,
         family='Open Sans', color='#444444', va='center')

axT = px_axes(1241, 1556, 2130, 1582)
style(axT, rx, (0, 1))
axT.vlines(month_starts[1:], 0, 1, color=SEP, lw=1)
for m, s in zip(month_labels, month_starts):
    axT.text(s + 0.6, 0.45, m, ha='left', va='center', fontsize=12.5, family='Open Sans',
             color='#333333', clip_on=True)

# ---- frames, separators, titles, notes ----
for y in (1278, 1551):
    top.plot([220, 1190], [y, y], color=SEP, lw=1)
top.plot([1134, 1134], [525, 1578], color=SEP, lw=1)
for y in (1273, 1556):
    top.plot([1241, 2189], [y, y], color=SEP, lw=1)
top.plot([2130, 2130], [533, 1582], color=SEP, lw=1)

top.text(616, 514, 'SPDR S&P Retail ETF (XRT)', ha='center', va='center', fontsize=14.3,
         family='Open Sans', color='#222222')
top.text(1133, 514, 'Weekly', ha='right', va='center', fontsize=14.3, family='Open Sans', color='#222222')
top.text(1637, 519, 'SPDR S&P Retail ETF (XRT)', ha='center', va='center', fontsize=14.3,
         family='Open Sans', color='#222222')
top.text(2136, 519, 'Daily', ha='right', va='center', fontsize=14.3, family='Open Sans', color='#222222')

top.add_patch(FancyBboxPatch((231, 543), 891, 216, boxstyle='round,pad=0,rounding_size=4',
                             fc='#fbfbfb', ec='#3a3a3a', lw=1.4))
top.add_patch(FancyBboxPatch((1253, 543), 868, 218, boxstyle='round,pad=0,rounding_size=4',
                             fc='#fbfbfb', ec='#3a3a3a', lw=1.4))
for k, line in enumerate(left_note):
    top.text(236, 573 + k * 34.4, line, fontsize=17.1, family='Open Sans', color=NOTE_RED, va='baseline')
for k, line in enumerate(right_note):
    top.text(1258, 575 + k * 34.4, line, fontsize=17.1, family='Open Sans', color=NOTE_RED, va='baseline')

top.add_patch(Rectangle((1160, 1563), 28, 15, fill=False, ec='#9a9a9a', lw=0.6))
top.text(1174, 1571, '0.148', ha='center', va='center', fontsize=5, color='#555555')
top.text(2185, 1574, 'd', ha='center', va='center', fontsize=7, color='#999999')

top.add_patch(Rectangle((218, 494), 975, 1086, fill=False, ec='black', lw=2.6))
top.add_patch(Rectangle((1238, 494), 954, 1093, fill=False, ec='black', lw=2.6))

fig.savefig('out.png', dpi=100, facecolor='white')
